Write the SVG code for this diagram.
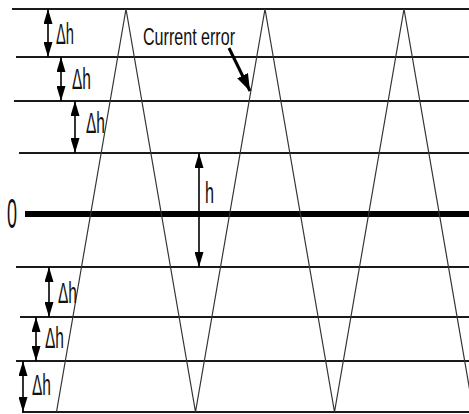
<svg xmlns="http://www.w3.org/2000/svg" width="469" height="414" viewBox="0 0 469 414">
<style>
.lvl{stroke:#1a1a1a;stroke-width:2;fill:none}
.zero{stroke:#000;stroke-width:6;fill:none}
.wave{stroke:#333;stroke-width:1.2;fill:none}
.dim{stroke:#000;stroke-width:1.6;fill:none;marker-start:url(#ah);marker-end:url(#ah)}
.lbl{font-family:"Liberation Sans",Arial,sans-serif;fill:#111}
</style>
<defs>
<marker id="ah" markerUnits="userSpaceOnUse" markerWidth="15" markerHeight="9" refX="15" refY="4.5" orient="auto-start-reverse" viewBox="0 0 15 9">
<path d="M0,0 L15,4.5 L0,9 z" fill="#000"/>
</marker>
<marker id="ah2" markerUnits="userSpaceOnUse" markerWidth="17" markerHeight="12" refX="17" refY="6" orient="auto" viewBox="0 0 17 12">
<path d="M0,0 L17,6 L0,12 z" fill="#000"/>
</marker>
</defs>
<rect width="469" height="414" fill="#fff"/>
<g id="levels">
<line class="lvl" x1="12" y1="9" x2="469" y2="9"/>
<line class="lvl" x1="16" y1="57" x2="469" y2="57"/>
<line class="lvl" x1="14" y1="101" x2="469" y2="101"/>
<line class="lvl" x1="19" y1="153" x2="469" y2="153"/>
<line class="zero" x1="25" y1="214" x2="469" y2="214"/>
<line class="lvl" x1="16" y1="267" x2="469" y2="267"/>
<line class="lvl" x1="20" y1="317" x2="469" y2="317"/>
<line class="lvl" x1="16" y1="361" x2="469" y2="361"/>
<line class="lvl" x1="22" y1="412" x2="469" y2="412"/>
</g>
<g id="wave">
<path class="wave" d="M56.5,412 L126,9 L195.5,412 L265,9 L334.5,412 L404,9 L473.5,412"/>
</g>
<g id="connectors">
<line class="dim" x1="48" y1="9" x2="48" y2="57"/>
<line class="dim" x1="61" y1="57" x2="61" y2="101"/>
<line class="dim" x1="75" y1="101" x2="75" y2="153"/>
<line class="dim" x1="199" y1="153" x2="199" y2="267"/>
<line class="dim" x1="49" y1="267" x2="49" y2="317"/>
<line class="dim" x1="36" y1="317" x2="36" y2="361"/>
<line class="dim" x1="23" y1="361" x2="23" y2="412"/>
<line x1="229" y1="48" x2="250" y2="91" stroke="#000" stroke-width="3" marker-end="url(#ah2)"/>
</g>
<g id="labels">
<text class="lbl" x="56" y="44" font-size="30" textLength="18" lengthAdjust="spacingAndGlyphs">Δh</text>
<text class="lbl" x="72" y="89" font-size="30" textLength="19" lengthAdjust="spacingAndGlyphs">Δh</text>
<text class="lbl" x="86" y="133" font-size="30" textLength="19" lengthAdjust="spacingAndGlyphs">Δh</text>
<text class="lbl" x="58" y="303" font-size="30" textLength="19" lengthAdjust="spacingAndGlyphs">Δh</text>
<text class="lbl" x="45" y="348" font-size="30" textLength="19" lengthAdjust="spacingAndGlyphs">Δh</text>
<text class="lbl" x="32" y="395" font-size="30" textLength="19" lengthAdjust="spacingAndGlyphs">Δh</text>
<text class="lbl" x="205" y="203" font-size="29" textLength="9" lengthAdjust="spacingAndGlyphs">h</text>
<text class="lbl" x="7" y="228" font-size="42" textLength="10" lengthAdjust="spacingAndGlyphs">0</text>
<text class="lbl" x="143" y="45" font-size="24" textLength="92" lengthAdjust="spacingAndGlyphs">Current error</text>
</g>
</svg>
